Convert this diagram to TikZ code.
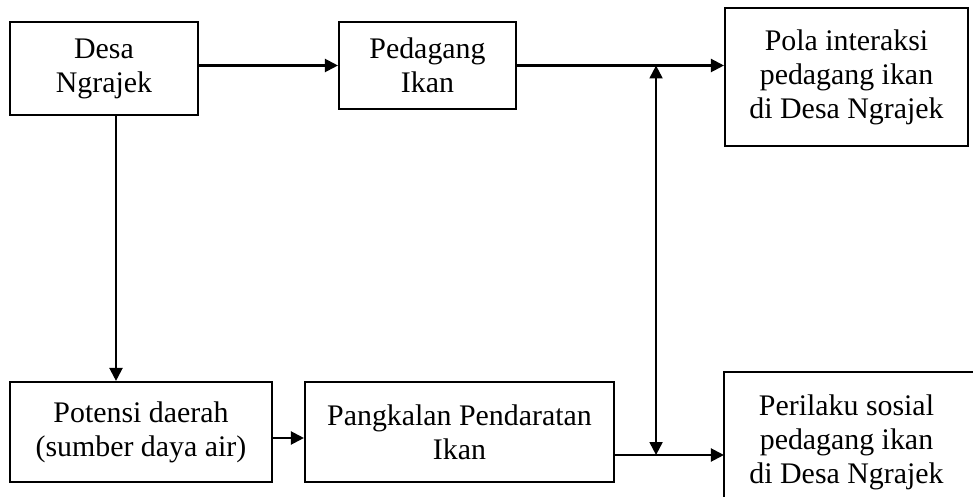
\documentclass[tikz,border=0pt]{standalone}
\usepackage{fontspec}
\setmainfont{Liberation Serif}
\usetikzlibrary{arrows.meta,positioning}

\begin{document}
\begin{tikzpicture}[>={Triangle[length=0.26cm,width=0.26cm]}, line width=1.2pt, on grid,
  box/.style={draw, align=center, font=\fontsize{17}{19.4}\selectfont, inner sep=0pt}]
\useasboundingbox (0,0) rectangle (19.46,-9.94);
\node[box, minimum width=3.76cm, minimum height=1.86cm](desa) at (2.08,-1.37){Desa\\Ngrajek};
\node[box, minimum width=3.54cm, minimum height=1.74cm](pedagang) [right=6.47cm of desa, yshift=0.06cm]{Pedagang\\Ikan};
\node[box, minimum width=4.86cm, minimum height=2.76cm](pola) [right=8.38cm of pedagang, yshift=-0.23cm]{Pola interaksi\\pedagang ikan\\di Desa Ngrajek};
\node[box, minimum width=5.24cm, minimum height=2cm](potensi) [below=7.27cm of desa, xshift=0.74cm]{Potensi daerah\\(sumber daya air)};
\node[box, minimum width=6.18cm, minimum height=2cm](pangkalan) [right=6.37cm of potensi]{Pangkalan Pendaratan\\Ikan};
\node[box, draw=none, minimum width=4.86cm, minimum height=2.76cm](perilaku) [below=7.3cm of pola]{Perilaku sosial\\pedagang ikan\\di Desa Ngrajek};
\draw (perilaku.north west) rectangle ([xshift=0.6cm,yshift=-0.3cm]perilaku.south east);
\path (pedagang.east) ++(2.78,0) coordinate (jt);
\path ([yshift=-0.46cm]pangkalan.east) coordinate (pl);
\coordinate (jb) at (jt |- pl);
\draw[->] (desa.east |- pedagang.west) -- (pedagang.west);
\draw[->] (pedagang.east) -- (pedagang.east -| pola.west);
\draw[->] ([xshift=0.24cm]desa.south) -- ([xshift=0.24cm]desa.south |- potensi.north);
\draw[->] ([yshift=-0.12cm]potensi.east) -- ([yshift=-0.12cm]potensi.east -| pangkalan.west);
\draw[->] (pl) -- (pl -| perilaku.west);
\draw[<->] (jt) -- (jb);
\end{tikzpicture}
\end{document}
